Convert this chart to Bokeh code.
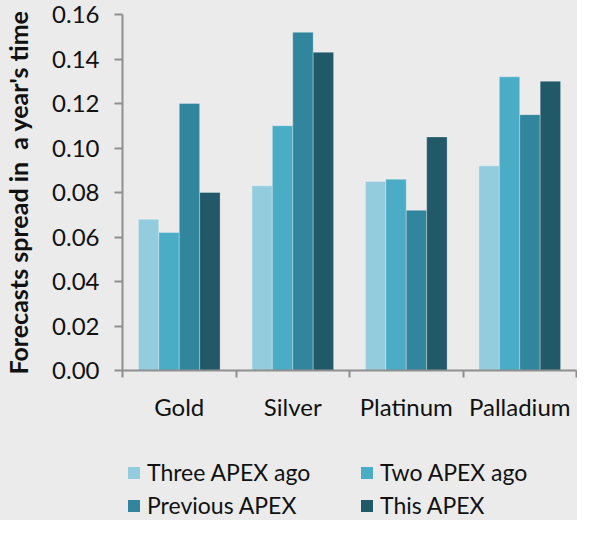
from bokeh.plotting import figure
from bokeh.layouts import column
from bokeh.models import ColumnDataSource, FixedTicker, NumeralTickFormatter, Range1d, Legend, LegendItem
from bokeh.transform import dodge
from bokeh.embed import file_html
from bokeh.resources import INLINE

metals = ["Gold", "Silver", "Platinum", "Palladium"]
series = ["Three APEX ago", "Two APEX ago", "Previous APEX", "This APEX"]
three_apex_ago = [0.068, 0.083, 0.085, 0.092]
two_apex_ago = [0.062, 0.110, 0.086, 0.132]
previous_apex = [0.120, 0.152, 0.072, 0.115]
this_apex = [0.080, 0.143, 0.105, 0.130]
y_ticks = [0.00, 0.02, 0.04, 0.06, 0.08, 0.10, 0.12, 0.14, 0.16]
y_label = "Forecasts spread in \u00a0a year's time"

colors = ["#93CDDD", "#4BACC6", "#31859C", "#215968"]
offsets = [-0.27, -0.09, 0.09, 0.27]
bar_w = 0.18
FONT = "Lato"
BG = "#EBEBEB"
AX = "#8F8F8F"

pos = [i + 0.5 for i in range(len(metals))]
bounds = [float(i) for i in range(len(metals) + 1)]
src = ColumnDataSource(dict(x=pos, s0=three_apex_ago, s1=two_apex_ago, s2=previous_apex, s3=this_apex))

p = figure(width=577, height=440, output_backend="svg", toolbar_location=None,
           x_range=Range1d(0, len(metals)), y_range=Range1d(0, 0.16),
           min_border_left=120, min_border_top=14, min_border_right=1, min_border_bottom=70)
p.background_fill_color = BG
p.border_fill_color = BG
p.outline_line_color = None
p.grid.visible = False

for k, name in enumerate(series):
    p.vbar(x=dodge("x", offsets[k]), top="s%d" % k, width=bar_w, source=src,
           fill_color=colors[k], line_color="#ffffff", line_alpha=0.3, line_width=1)

# y axis
ya = p.yaxis[0]
ya.ticker = FixedTicker(ticks=y_ticks)
ya.formatter = NumeralTickFormatter(format="0.00")
ya.axis_line_color = AX
ya.axis_line_width = 2
ya.major_tick_line_color = AX
ya.major_tick_line_width = 2
ya.major_tick_out = 8
ya.major_tick_in = 0
ya.minor_tick_line_color = None
ya.major_label_text_font = FONT
ya.major_label_text_font_size = "24px"
ya.major_label_text_color = "#111111"
ya.major_label_standoff = 15
ya.axis_label = y_label
ya.axis_label_text_font = FONT
ya.axis_label_text_font_style = "bold"
ya.axis_label_text_font_size = "25px"
ya.axis_label_text_color = "#111111"
ya.axis_label_standoff = 16

# x axis
xa = p.xaxis[0]
xa.ticker = FixedTicker(ticks=pos, minor_ticks=bounds)
xa.major_label_overrides = {pv: m for pv, m in zip(pos, metals)}
xa.axis_line_color = AX
xa.axis_line_width = 2
xa.major_tick_line_color = None
xa.major_tick_out = 7
xa.major_tick_in = 0
xa.minor_tick_line_color = AX
xa.minor_tick_line_width = 2
xa.minor_tick_out = 7
xa.minor_tick_in = 0
xa.major_label_text_font = FONT
xa.major_label_text_font_size = "24px"
xa.major_label_text_color = "#111111"
xa.major_label_standoff = 14

# legend strip below the chart (own figure; its bar renderers sit outside its view)
lf = figure(width=577, height=80, output_backend="svg", toolbar_location=None,
            x_range=Range1d(0, len(metals)), y_range=Range1d(1, 2),
            x_axis_type=None, y_axis_type=None,
            min_border_left=0, min_border_top=0, min_border_right=0, min_border_bottom=0)
lf.background_fill_color = BG
lf.border_fill_color = BG
lf.outline_line_color = None
lf.grid.visible = False
leg_renderers = []
for k, name in enumerate(series):
    r = lf.vbar(x=dodge("x", offsets[k]), top="s%d" % k, width=bar_w, source=src,
                fill_color=colors[k], line_color=None)
    leg_renderers.append(r)

legend = Legend(items=[LegendItem(label=s, renderers=[r]) for s, r in zip(series, leg_renderers)],
                nrows=2, location=(4, 1), orientation="horizontal")
legend.background_fill_alpha = 0
legend.border_line_color = None
legend.padding = 0
legend.margin = 0
legend.spacing = 5
legend.glyph_width = 15
legend.glyph_height = 15
legend.label_standoff = 6
legend.label_width = 207
legend.label_text_font = FONT
legend.label_text_font_size = "23px"
legend.label_text_color = "#111111"
lf.add_layout(legend, "center")

page = column(p, lf, spacing=0)
page.styles = {"background-color": BG}

open("out.html", "w").write(file_html(page, INLINE))
